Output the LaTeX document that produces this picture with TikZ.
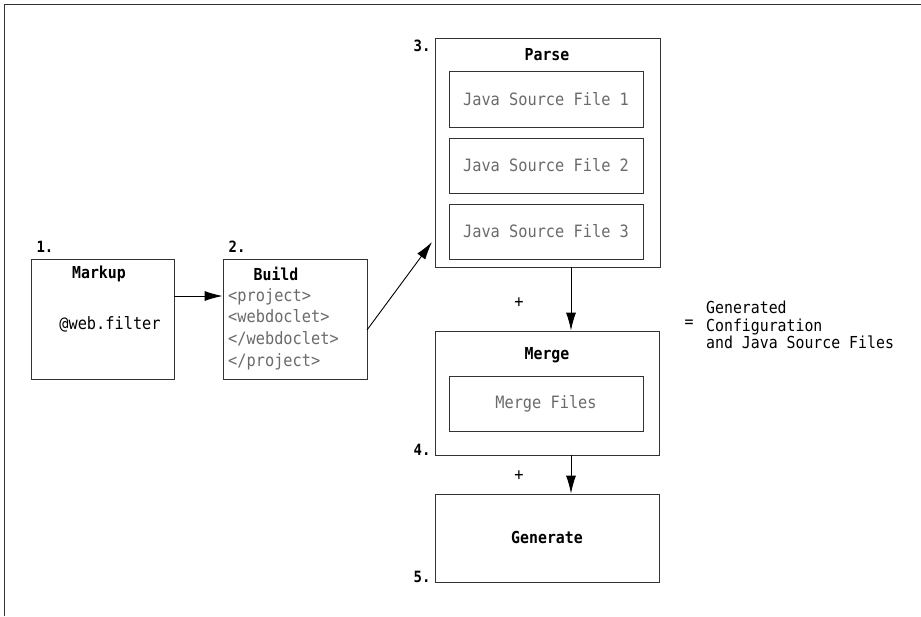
\documentclass[tikz,border=0pt]{standalone}
\usepackage{fontspec}
\setmonofont[FakeStretch=0.9]{DejaVu Sans Mono}
\usetikzlibrary{arrows.meta}
\definecolor{linegray}{HTML}{333333}
\definecolor{softgray}{HTML}{6A6A6A}
\tikzset{
  box/.style={draw=linegray, line width=0.9pt, rectangle, inner sep=0pt},
  head/.style={font=\ttfamily\bfseries\fontsize{16.5}{19}\selectfont, text=black, inner sep=0pt},
  body/.style={font=\ttfamily\fontsize{17}{21.7}\selectfont, inner sep=0pt},
  dim/.style={body, text=softgray},
  note/.style={font=\ttfamily\fontsize{16.5}{17.5}\selectfont, inner sep=0pt},
  num/.style={font=\ttfamily\bfseries\fontsize{15.5}{17}\selectfont, inner sep=0pt},
  flow/.style={draw=black, line width=0.9pt, -{Latex[length=18pt,width=10pt]}},
}
\begin{document}
\begin{tikzpicture}[x=1pt,y=-1pt]
\useasboundingbox (0,0) rectangle (921,616);
% frame edges
\draw[linegray, line width=1pt] (4,616) -- (4,4) -- (921,4);

% step 1
\node[box, minimum width=143pt, minimum height=120pt] (markup) at (102.5,319) {};
\node[head] (markupT) at (99,274) {Markup};
\node[body] (markupB) at (110,324) {@web.filter};
\node[num] (n1) at (45,247) {1.};

% step 2
\node[box, minimum width=144pt, minimum height=120pt] (build) at (295,319) {};
\node[head] (buildT) at (276,274) {Build};
\node[dim, align=left, anchor=west] (buildB) at (228,329)
  {<project>\\<webdoclet>\\</webdoclet>\\</project>};
\node[num] (n2) at (237,247) {2.};

% step 3
\node[box, minimum width=225pt, minimum height=229pt] (parse) at (547.5,152.5) {};
\node[head] (parseT) at (547,55) {Parse};
\node[box, minimum width=194pt, minimum height=56pt] (src1) at (546,99) {};
\node[dim] at (src1) {Java Source File 1};
\node[box, minimum width=194pt, minimum height=55pt] (src2) at (546,165.5) {};
\node[dim] at (src2) {Java Source File 2};
\node[box, minimum width=194pt, minimum height=55pt] (src3) at (546,231.5) {};
\node[dim] at (src3) {Java Source File 3};
\node[num] (n3) at (422,46) {3.};

% step 4
\node[box, minimum width=224pt, minimum height=124pt] (merge) at (547,393) {};
\node[head] (mergeT) at (547,355) {Merge};
\node[box, minimum width=194pt, minimum height=55pt] (mfiles) at (546,403.5) {};
\node[dim] at (mfiles) {Merge Files};
\node[num] (n4) at (422,450) {4.};

% step 5
\node[box, minimum width=224pt, minimum height=88pt] (gen) at (547,538) {};
\node[head] (genT) at (547,537) {Generate};
\node[num] (n5) at (422,577) {5.};

% plus signs
\node[body] (plus1) at (519,303) {+};
\node[body] (plus2) at (519,476) {+};

% result description
\node[note, align=left, anchor=west] (result) at (706,325)
  {Generated\\Configuration\\and Java Source Files};
\node[note] (eq) at (689,324) {=};

% connectors
\coordinate (a1s) at (markup.east |- 0,296);
\coordinate (a1e) at (build.west |- 0,296);
\draw[flow] (a1s) -- (a1e);
\coordinate (a2s) at (367,330);
\coordinate (a2e) at (432,242);
\draw[flow] (a2s) -- (a2e);
\coordinate (a3s) at (571,0 |- parse.south);
\coordinate (a3e) at (571,0 |- merge.north);
\draw[flow] (a3s) -- (a3e);
\coordinate (a4s) at (571,0 |- merge.south);
\coordinate (a4e) at (571,0 |- gen.north);
\draw[flow] (a4s) -- (a4e);
\end{tikzpicture}
\end{document}
